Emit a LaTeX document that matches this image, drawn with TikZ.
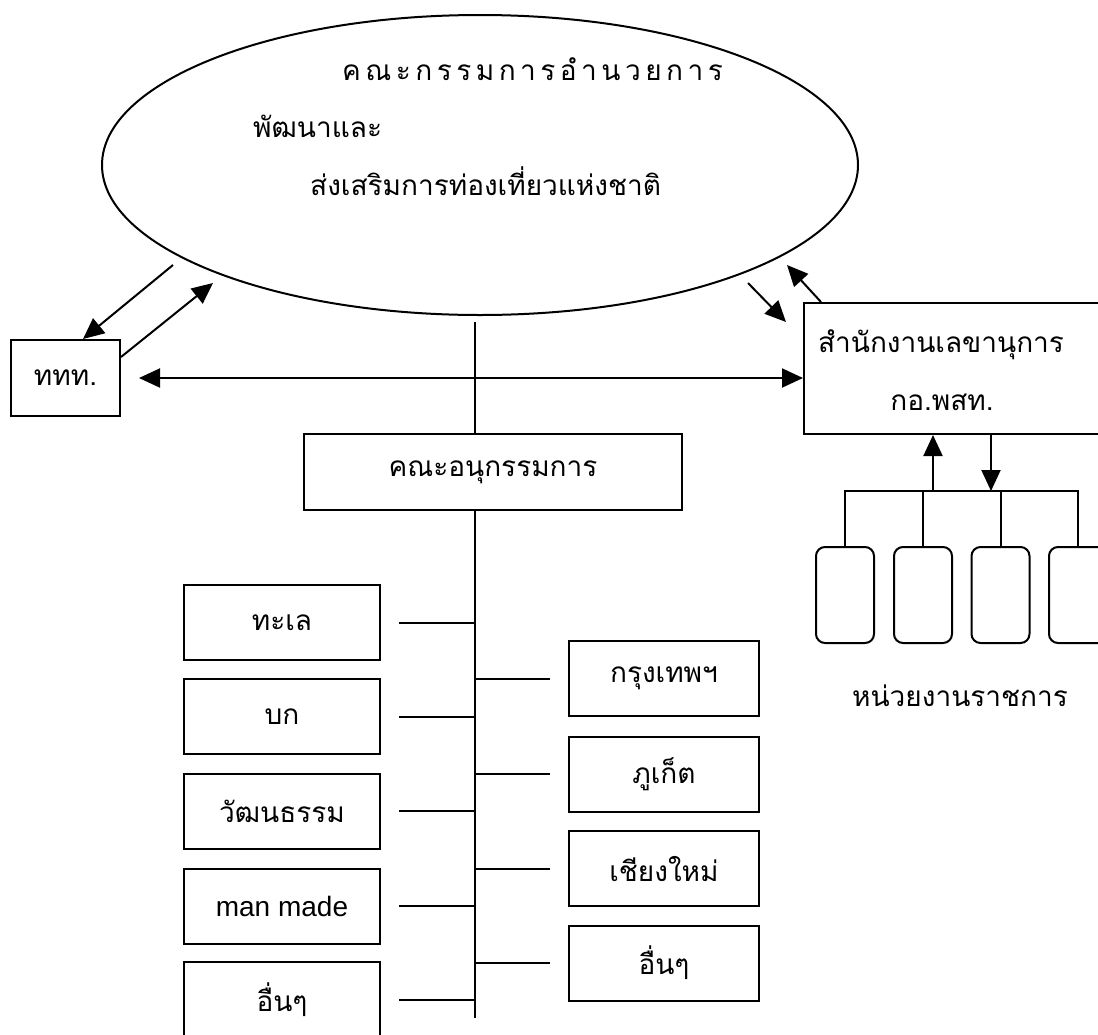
\documentclass[tikz,border=0pt]{standalone}
\usepackage{fontspec}
\setmainfont{Liberation Sans}
\newfontfamily\thaifont[Script=Thai]{Loma}
\newfontfamily\thaispaced[Script=Thai,LetterSpace=16]{Loma}
\usetikzlibrary{shapes.geometric,arrows.meta}
\begin{document}
\begin{tikzpicture}[x=1pt,y=-1pt,
  every node/.style={font=\thaifont\fontsize{28}{34}\selectfont},
  ln/.style={line width=2pt},
  box/.style={draw,line width=2pt,rectangle,inner sep=0pt},
  agency/.style={draw,line width=2pt,rectangle,rounded corners=9pt,minimum width=58pt,minimum height=96pt,inner sep=0pt},
  arr/.style={line width=2pt,-{Triangle[length=21pt,width=19pt]}},
  darr/.style={line width=2pt,{Triangle[length=21pt,width=19pt]}-{Triangle[length=21pt,width=19pt]}},
  lbox/.style={box,minimum width=196pt,minimum height=75pt},
  rbox/.style={box,minimum width=190pt,minimum height=75pt}]
\useasboundingbox[fill=white] (0,0) rectangle (1098,1034);

% main ellipse
\node[draw,ellipse,line width=2pt,minimum width=756pt,minimum height=300pt,inner sep=0pt] (ell) at (480,165) {};
\node[anchor=base west,inner sep=0pt,font=\thaispaced\fontsize{28}{34}\selectfont] (t1) at (342,80) {คณะกรรมการอำนวยการ};
\node[anchor=base west,inner sep=0pt] (t2) at (253,137) {พัฒนาและ};
\node[anchor=base west,inner sep=0pt] (t3) at (310,195) {ส่งเสริมการท่องเที่ยวแห่งชาติ};

% side boxes
\node[box,minimum width=109pt,minimum height=76pt] (ttt) at (65.5,378) {ททท.};
\node[box,minimum width=316pt,minimum height=131pt] (sec) at (962,368.5) {};
\node[anchor=base] (s1) at (941,352) {สำนักงานเลขานุการ};
\node[anchor=base] (s2) at (942,410) {กอ.พสท.};

% spine
\coordinate (sp0) at (475,322);
\coordinate (sp1) at (475,1018);
\node[box,minimum width=378pt,minimum height=76pt] (kana) at (493,472) {คณะอนุกรรมการ};
\draw[ln] (sp0) -- (sp0 |- kana.north);
\draw[ln] (kana.south -| sp0) -- (sp1);

% arrows
\draw[darr] ([xshift=18pt]ttt.east) -- (ttt.east -| sec.west);
\coordinate (a1) at (173,265);
\draw[arr] (a1) -- ([xshift=17.5pt]ttt.north);
\coordinate (a2) at (213,283);
\draw[arr] ([yshift=21pt]ttt.east) -- (a2);
\coordinate (a3s) at (748,283);
\coordinate (a3e) at (786,322);
\draw[arr] (a3s) -- (a3e);
\coordinate (a4) at (787,265);
\draw[arr] ([xshift=18pt]sec.north west) -- (a4);

% left boxes
\node[lbox] (L1) at (282,622.5) {ทะเล};
\node[lbox] (L2) at (282,716.5) {บก};
\node[lbox] (L3) at (282,811) {วัฒนธรรม};
\node[lbox,font=\fontsize{28}{34}\selectfont] (L4) at (282,906) {man made};
\node[lbox] (L5) at (282,999.5) {อื่นๆ};
\foreach \n in {L1,L2,L3,L4,L5}
  \draw[ln] ([xshift=18pt]\n.east) -- (\n.east -| sp0);

% right boxes
\node[rbox] (R1) at (664,678.5) {กรุงเทพฯ};
\node[rbox] (R2) at (664,774) {ภูเก็ต};
\node[rbox] (R3) at (664,868.5) {เชียงใหม่};
\node[rbox] (R4) at (664,963) {อื่นๆ};
\foreach \n in {R1,R2,R3,R4}
  \draw[ln] (\n.west -| sp0) -- ([xshift=-18pt]\n.west);

% agencies
\node[agency] (g1) at (845,595) {};
\node[agency] (g2) at (923,595) {};
\node[agency] (g3) at (1000.5,595) {};
\node[agency] (g4) at (1078,595) {};
\coordinate (bus) at (0,491);
\draw[ln] (g1.north) -- (g1.north |- bus) -- (g4.north |- bus) -- (g4.north);
\draw[ln] (g2.north) -- (g2.north |- bus);
\draw[ln] (g3.north) -- (g3.north |- bus);
\draw[arr] ([xshift=-29pt]sec.south |- bus) -- ([xshift=-29pt]sec.south);
\draw[arr] ([xshift=29pt]sec.south) -- ([xshift=29pt]sec.south |- bus);
\node[anchor=base] (gl) at (960,706) {หน่วยงานราชการ};
\end{tikzpicture}
\end{document}
